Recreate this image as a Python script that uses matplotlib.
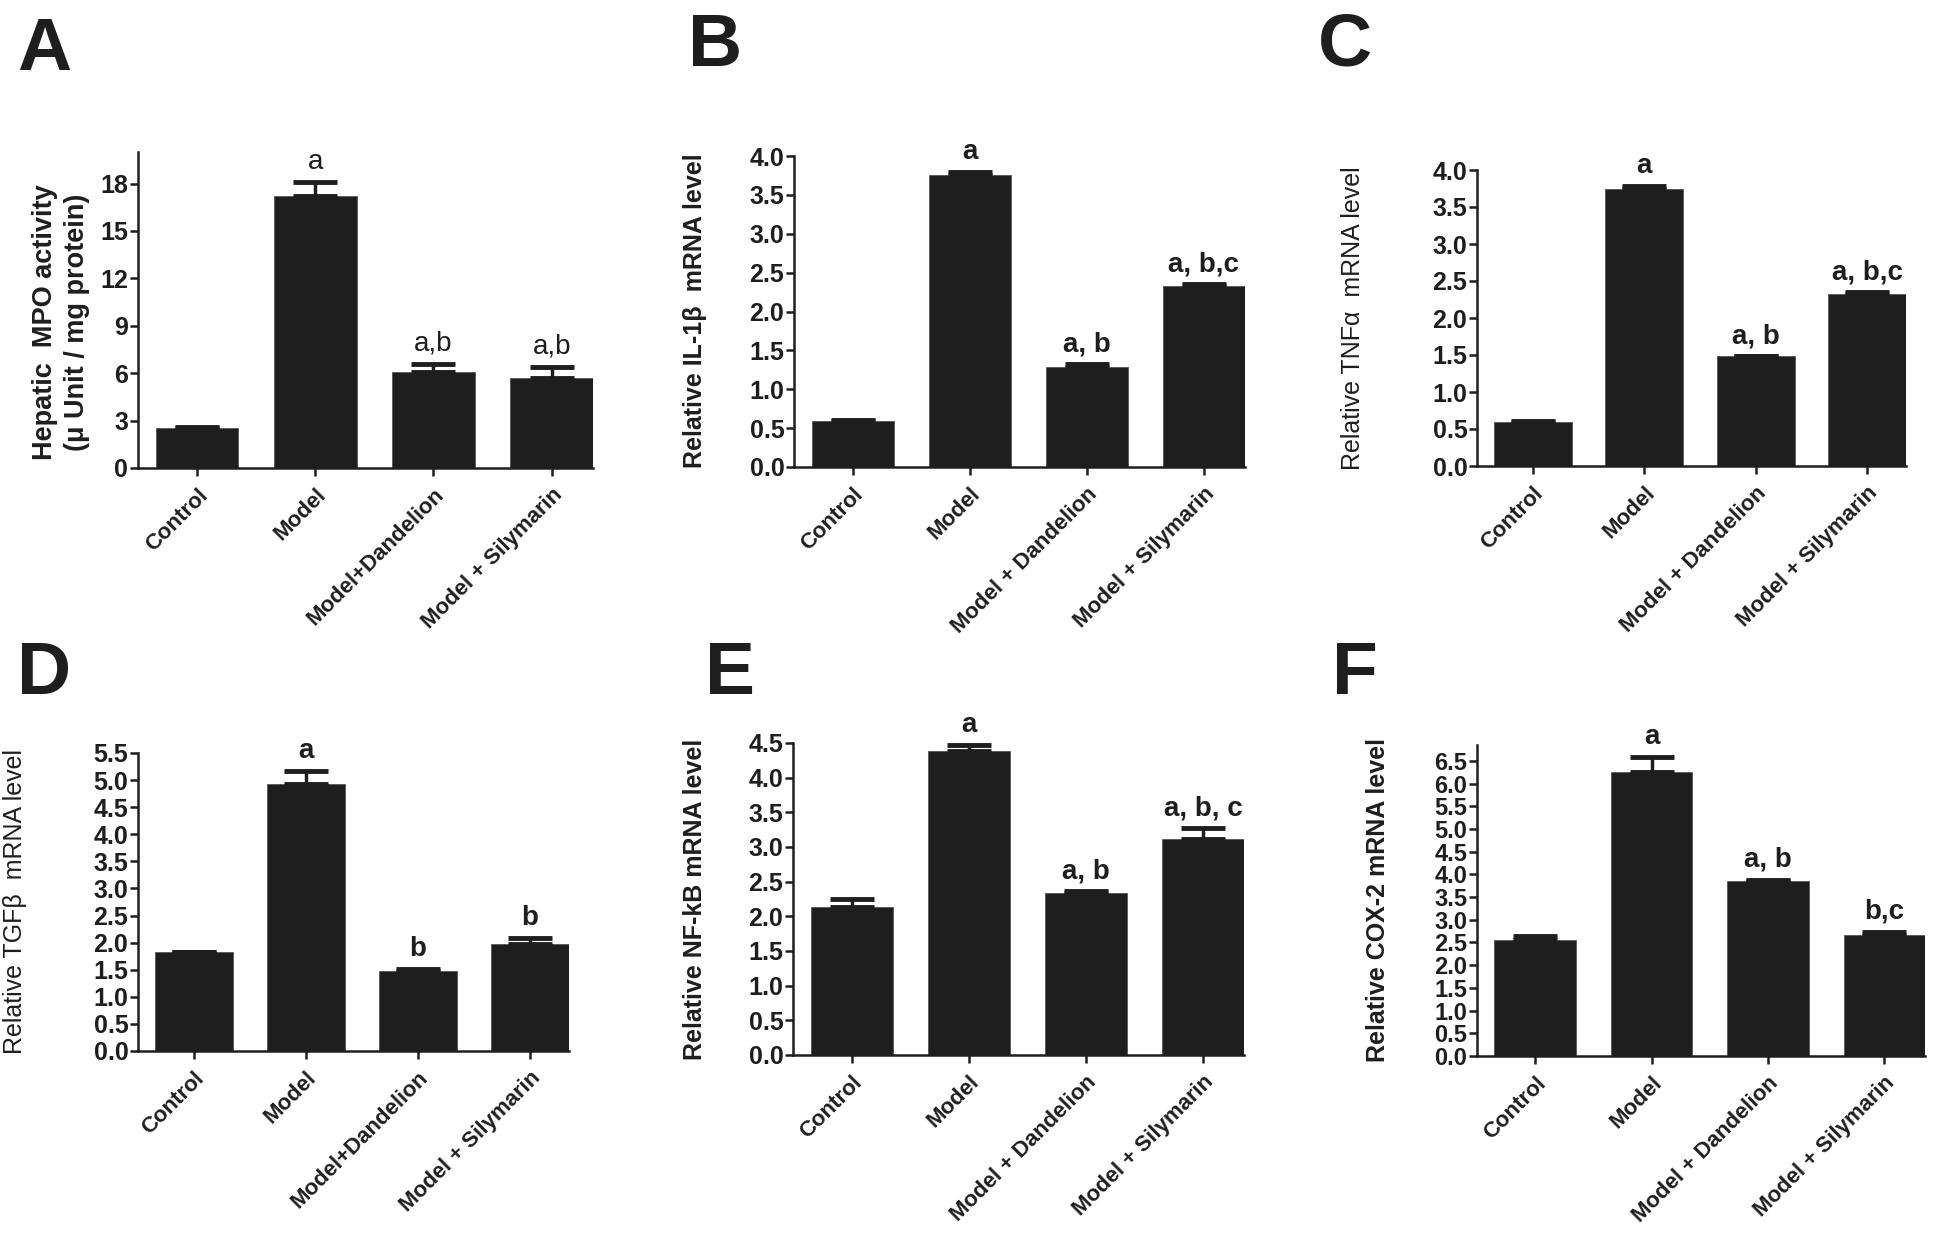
import matplotlib
matplotlib.use("Agg")
import matplotlib.pyplot as plt

plt.rcParams['font.family'] = ['Liberation Sans', 'DejaVu Sans']

W, H = 1946, 1237

# ---------------- data ----------------
cats_A = ["Control", "Model", "Model+Dandelion", "Model + Silymarin"]
cats_B = ["Control", "Model", "Model + Dandelion", "Model + Silymarin"]

mpo_mean = [2.55, 17.2, 6.06, 5.68]
mpo_err = [0.03, 0.9, 0.53, 0.74]
mpo_sig = ["", "a", "a,b", "a,b"]

il1b_mean = [0.59, 3.75, 1.28, 2.33]
il1b_err = [0.01, 0.04, 0.045, 0.02]
il1b_sig = ["", "a", "a, b", "a, b,c"]

tnfa_mean = [0.59, 3.75, 1.48, 2.33]
tnfa_err = [0.02, 0.04, 0.005, 0.02]
tnfa_sig = ["", "a", "a, b", "a, b,c"]

tgfb_mean = [1.82, 4.93, 1.48, 1.97]
tgfb_err = [0.01, 0.24, 0.04, 0.11]
tgfb_sig = ["", "a", "b", "b"]

nfkb_mean = [2.14, 4.38, 2.33, 3.12]
nfkb_err = [0.11, 0.09, 0.03, 0.15]
nfkb_sig = ["", "a", "a, b", "a, b, c"]

cox2_mean = [2.56, 6.25, 3.85, 2.67]
cox2_err = [0.08, 0.33, 0.03, 0.07]
cox2_sig = ["", "a", "a, b", "b,c"]

fig = plt.figure(figsize=(W / 100, H / 100), dpi=100)


def make_axes(left, right, bottom, top):
    return fig.add_axes([left / W, 1 - bottom / H, (right - left) / W, (bottom - top) / H])


def panel(ax, cats, mean, err, sig, ylim, yticks, fmt, sig_bold=True, tick_fs=18):
    x = list(range(len(cats)))
    ax.bar(x, mean, width=0.7, color='#1e1e1e', edgecolor='#555555', linewidth=0.6, zorder=2)
    ax.errorbar(x, mean, yerr=[[0] * len(err), err], fmt='none', ecolor='#1e1e1e',
                elinewidth=2.5, capsize=15.5, capthick=3.5, zorder=3)
    for xi, m, e, s in zip(x, mean, err, sig):
        if s:
            ax.annotate(s, xy=(xi, m + e), xytext=(0, 5), textcoords='offset points',
                        ha='center', va='bottom', fontsize=20,
                        fontweight='bold' if sig_bold else 'normal',
                        color='#1e1e1e', annotation_clip=False)
    ax.set_xlim(-0.5, 3.35)
    ax.set_ylim(*ylim)
    ax.set_yticks(yticks)
    ax.set_yticklabels([fmt.format(v) for v in yticks], fontsize=tick_fs, fontweight='bold')
    ax.set_xticks(x)
    ax.set_xticklabels(cats, rotation=45, ha='right', rotation_mode='anchor',
                       fontsize=16, fontweight='bold')
    for s in ['top', 'right']:
        ax.spines[s].set_visible(False)
    for s in ['left', 'bottom']:
        ax.spines[s].set_linewidth(1.8)
        ax.spines[s].set_color('#1e1e1e')
    ax.tick_params(axis='both', length=6, width=1.8, color='#1e1e1e', labelcolor='#1e1e1e')
    ax.tick_params(axis='y', pad=1)
    ax.tick_params(axis='x', pad=6)


def frange(a, b, step):
    n = int(round((b - a) / step))
    return [round(a + i * step, 2) for i in range(n + 1)]


# Panel A
axA = make_axes(138, 593, 468, 152)
panel(axA, cats_A, mpo_mean, mpo_err, mpo_sig, (0, 20), [0, 3, 6, 9, 12, 15, 18], "{:.0f}",
      sig_bold=False)
# Panel B
axB = make_axes(794, 1245, 467, 156)
panel(axB, cats_B, il1b_mean, il1b_err, il1b_sig, (0, 4.0), frange(0, 4.0, 0.5), "{:.1f}")
# Panel C
axC = make_axes(1477, 1906, 466, 170)
panel(axC, cats_B, tnfa_mean, tnfa_err, tnfa_sig, (0, 4.0), frange(0, 4.0, 0.5), "{:.1f}")
# Panel D
axD = make_axes(138, 569, 1051, 753)
panel(axD, cats_A, tgfb_mean, tgfb_err, tgfb_sig, (0, 5.5), frange(0, 5.5, 0.5), "{:.1f}")
# Panel E
axE = make_axes(793, 1244, 1055, 743)
panel(axE, cats_B, nfkb_mean, nfkb_err, nfkb_sig, (0, 4.5), frange(0, 4.5, 0.5), "{:.1f}")
# Panel F
axF = make_axes(1477, 1925, 1056, 745)
panel(axF, cats_B, cox2_mean, cox2_err, cox2_sig, (0, 6.85), frange(0, 6.5, 0.5), "{:.1f}",
      tick_fs=17)


def ftext(x, y, s, **kw):
    fig.text(x / W, 1 - y / H, s, **kw)


# y-axis labels
ftext(61, 322, "Hepatic  MPO activity\n(\u03bc Unit / mg protein)", rotation=90, ha='center',
      va='center', fontsize=19.5, fontweight='bold', color='#1e1e1e', linespacing=1.25)
ftext(695, 311, "Relative IL-1\u03b2  mRNA level", rotation=90, ha='center', va='center',
      fontsize=18, fontweight='bold', color='#1e1e1e')
ftext(1353, 318, "Relative TNF\u03b1  mRNA level", rotation=90, ha='center', va='center',
      fontsize=18, fontweight='normal', color='#1e1e1e')
ftext(15, 902, "Relative TGF\u03b2  mRNA level", rotation=90, ha='center', va='center',
      fontsize=18, fontweight='normal', color='#1e1e1e')
ftext(695, 899, "Relative NF-kB mRNA level", rotation=90, ha='center', va='center',
      fontsize=18, fontweight='bold', color='#1e1e1e')
ftext(1378, 900, "Relative COX-2 mRNA level", rotation=90, ha='center', va='center',
      fontsize=18, fontweight='bold', color='#1e1e1e')

# panel letters
for letter, x, y in [("A", 17, 16), ("B", 688, 12), ("C", 1318, 12),
                     ("D", 17, 640), ("E", 705, 640), ("F", 1332, 640)]:
    ftext(x, y, letter, ha='left', va='top', fontsize=54, fontweight='bold', color='#1e1e1e')

fig.savefig("out.png", dpi=100, facecolor='white')
